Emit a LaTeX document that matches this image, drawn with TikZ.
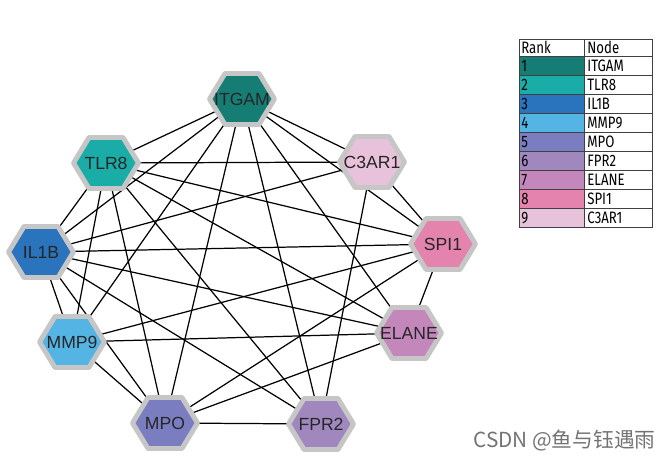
\documentclass[tikz,border=0pt]{standalone}
\usepackage{fontspec}
\setmainfont{Liberation Sans}
\newfontfamily\legendfont[FakeStretch=0.8]{Fira Sans}
\newfontfamily\cjkfont{Noto Sans CJK SC}
\usetikzlibrary{backgrounds}
\definecolor{rankA}{RGB}{21,125,116}
\definecolor{rankB}{RGB}{26,173,168}
\definecolor{rankC}{RGB}{42,115,189}
\definecolor{rankD}{RGB}{84,180,228}
\definecolor{rankE}{RGB}{122,126,192}
\definecolor{rankF}{RGB}{160,136,191}
\definecolor{rankG}{RGB}{196,135,187}
\definecolor{rankH}{RGB}{227,131,174}
\definecolor{rankI}{RGB}{232,194,218}
\definecolor{hexgray}{RGB}{198,198,198}

\begin{document}
\begin{tikzpicture}[x=0.02cm,y=-0.02cm]
\tikzset{gene/.style={font=\fontsize{10}{12}\selectfont, text=black!85, inner sep=0pt}}
\tikzset{hexa/.style={draw=hexgray, line width=2.8pt, line join=round}}
\tikzset{link/.style={line width=0.7pt}}
\tikzset{legtext/.style={font=\legendfont\fontsize{9.4}{11}\selectfont, anchor=west, inner sep=0pt}}
\tikzset{legline/.style={draw=black!75, line width=0.5pt}}
\tikzset{wmark/.style={font=\cjkfont\fontsize{11.8}{13}\selectfont, text=black!55, inner sep=0pt}}

\useasboundingbox (0,0) rectangle (672,466);

\node[gene] (itgam) at (242,99) {ITGAM};
\node[gene] (tlr8) at (106,163) {TLR8};
\node[gene] (il1b) at (41,252) {IL1B};
\node[gene] (mmp9) at (72,342) {MMP9};
\node[gene] (mpo) at (165,423) {MPO};
\node[gene] (fpr2) at (321,424) {FPR2};
\node[gene] (elane) at (409,333) {ELANE};
\node[gene] (spi1) at (443,244) {SPI1};
\node[gene] (c3ar1) at (372,162) {C3AR1};

\begin{scope}[on background layer]
% interactions
\foreach \a/\b in {itgam/tlr8, itgam/il1b, itgam/mmp9, itgam/mpo, itgam/fpr2, itgam/elane, itgam/spi1, itgam/c3ar1,
  tlr8/c3ar1, tlr8/spi1, tlr8/elane, tlr8/fpr2, tlr8/mpo, tlr8/mmp9, tlr8/il1b,
  il1b/c3ar1, il1b/spi1, il1b/elane, il1b/fpr2, il1b/mpo, il1b/mmp9,
  mmp9/spi1, mmp9/elane, mmp9/mpo,
  mpo/spi1, mpo/elane, mpo/fpr2,
  fpr2/c3ar1, elane/spi1, spi1/c3ar1}
  \draw[link] (\a.center) -- (\b.center);
% hexagons
\foreach \n/\c in {itgam/rankA, tlr8/rankB, il1b/rankC, mmp9/rankD, mpo/rankE, fpr2/rankF, elane/rankG, spi1/rankH, c3ar1/rankI}
  \draw[hexa, fill=\c] (\n.center) +(-32.5,0) -- +(-17,-25.5) -- +(17,-25.5) -- +(32.5,0) -- +(17,25.5) -- +(-17,25.5) -- cycle;
\end{scope}

% legend
\node[legtext] (rank) at (521,47.5) {Rank};
\node[legtext] (node) at (587,47.5) {Node};
\foreach \i/\c/\g in {1/rankA/ITGAM, 2/rankB/TLR8, 3/rankC/IL1B, 4/rankD/MMP9, 5/rankE/MPO, 6/rankF/FPR2, 7/rankG/ELANE, 8/rankH/SPI1, 9/rankI/C3AR1} {
  \fill[\c] (519,{56+(\i-1)*19}) rectangle (584,{56+\i*19});
  \node[legtext] (r\i) at (521,{66+(\i-1)*19}) {\i};
  \node[legtext] (g\i) at (587,{66+(\i-1)*19}) {\g};
}
\foreach \k in {0,...,8}
  \draw[legline] (519,{56+\k*19}) -- (652,{56+\k*19});
\draw[legline] (584,39) -- (584,227);
\draw[legline] (519,39) rectangle (652,227);

\node[wmark, anchor=east] (csdn) at (656,441) {CSDN @鱼与钰遇雨};
\end{tikzpicture}
\end{document}
